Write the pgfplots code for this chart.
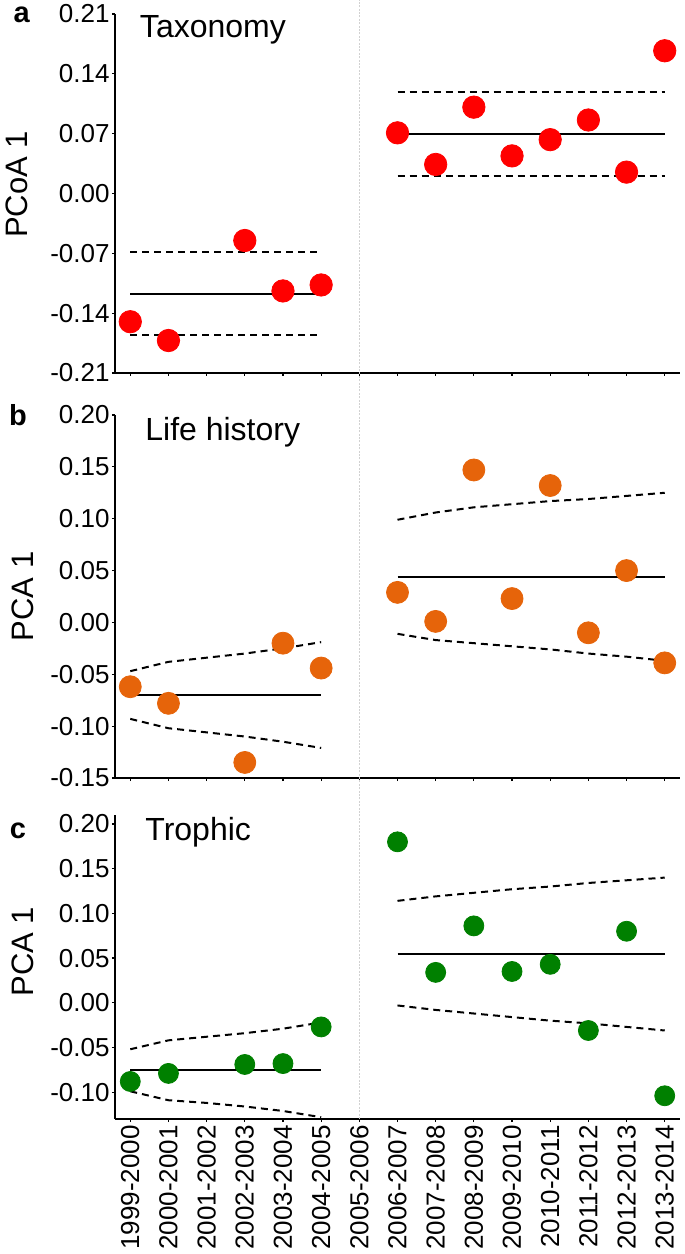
\documentclass[border=0pt]{standalone}
\usepackage{fontspec}
\setmainfont{Liberation Sans}
\usepackage{pgfplots}
\pgfplotsset{compat=1.18}

\definecolor{cred}{RGB}{255,0,0}
\definecolor{corange}{RGB}{230,100,10}
\definecolor{cgreen}{RGB}{0,128,0}

\pgfplotsset{
  panel/.style={
    scale only axis, width=282.5pt, anchor=north west,
    xmin=-0.4, xmax=14.4,
    axis x line*=bottom, axis y line*=left,
    axis line style={line width=0.8pt,-},
    xtick={0,...,14},
    tick style={line width=0.6pt, black},
    tick align=outside, major tick length=1.5pt,
    ticklabel style={font=\fontsize{13}{15}\selectfont},
    yticklabel style={inner sep=1pt},
    clip=false,
    ylabel style={anchor=center, font=\fontsize{15.5}{18}\selectfont},
  },
  mean/.style={black, line width=1pt},
  band/.style={black, line width=1pt, dash pattern=on 3.5pt off 2.5pt},
  pts/.style={only marks, mark=*, mark size=#1, mark options={draw=none}},
}

\begin{document}
\begin{tikzpicture}
\path[use as bounding box] (0,0) rectangle (342.5pt,-627pt);

% ---------------- panel a ----------------
\begin{axis}[panel, name=pa, at={(57.5pt,-7pt)}, height=179.5pt,
  ymin=-0.21, ymax=0.21,
  ytick={-0.21,-0.14,-0.07,0,0.07,0.14,0.21},
  yticklabels={-0.21,-0.14,-0.07,0.00,0.07,0.14,0.21},
  xticklabels={},
  ylabel={PCoA 1},
  ylabel style={at={(axis description cs:0,0.525)}, yshift=49pt}]
\addplot[pts=5.6pt, cred, mark options={fill=cred}] table {
x y
0 -0.150
1 -0.172
3 -0.055
4 -0.114
5 -0.107
7 0.071
8 0.034
9 0.101
10 0.044
11 0.063
12 0.086
13 0.025
14 0.167
};
\addplot[mean] coordinates {(0,-0.118) (5,-0.118)};
\addplot[band] coordinates {(0,-0.069) (5,-0.069)};
\addplot[band] coordinates {(0,-0.166) (5,-0.166)};
\addplot[mean] coordinates {(7,0.070) (14,0.070)};
\addplot[band] coordinates {(7,0.119) (14,0.119)};
\addplot[band] coordinates {(7,0.021) (14,0.021)};
\node[anchor=base west, inner sep=0pt, font=\fontsize{16}{18}\selectfont]
  at (rel axis cs:0,1) [xshift=12.3pt, yshift=-11.5pt] {Taxonomy};
\node[anchor=base, inner sep=0pt, font=\fontsize{14.5}{16}\selectfont\bfseries]
  at (rel axis cs:0,1) [xshift=-46.7pt, yshift=-4.4pt] {a};
\end{axis}

% ---------------- panel b ----------------
\begin{axis}[panel, name=pb, at={(57.5pt,-207.5pt)}, height=181.5pt,
  ymin=-0.15, ymax=0.20,
  ytick={-0.15,-0.10,-0.05,0,0.05,0.10,0.15,0.20},
  yticklabels={-0.15,-0.10,-0.05,0.00,0.05,0.10,0.15,0.20},
  xticklabels={},
  ylabel={PCA 1},
  ylabel style={at={(axis description cs:0,0.5)}, yshift=46pt}]
\addplot[pts=5.5pt, corange, mark options={fill=corange}] table {
x y
0 -0.062
1 -0.078
3 -0.135
4 -0.020
5 -0.044
7 0.029
8 0.001
9 0.147
10 0.023
11 0.132
12 -0.010
13 0.050
14 -0.039
};
\addplot[mean] coordinates {(0,-0.070) (5,-0.070)};
\addplot[band] coordinates {(0,-0.047) (1,-0.038) (2,-0.034) (3,-0.030) (4,-0.025) (5,-0.019)};
\addplot[band] coordinates {(0,-0.093) (1,-0.102) (2,-0.106) (3,-0.110) (4,-0.115) (5,-0.121)};
\addplot[mean] coordinates {(7,0.044) (14,0.044)};
\addplot[band] coordinates {(7,0.099) (8,0.106) (9,0.111) (10,0.114) (11,0.117) (12,0.119) (13,0.122) (14,0.125)};
\addplot[band] coordinates {(7,-0.011) (8,-0.017) (9,-0.020) (10,-0.023) (11,-0.026) (12,-0.030) (13,-0.033) (14,-0.037)};
\node[anchor=base west, inner sep=0pt, font=\fontsize{16}{18}\selectfont]
  at (rel axis cs:0,1) [xshift=15pt, yshift=-12.5pt] {Life history};
\node[anchor=base, inner sep=0pt, font=\fontsize{14.5}{16}\selectfont\bfseries]
  at (rel axis cs:0,1) [xshift=-48.5pt, yshift=-5pt] {b};
\end{axis}

% ---------------- panel c ----------------
\begin{axis}[panel, name=pc, at={(57.5pt,-407.5pt)}, height=152pt,
  ymin=-0.13, ymax=0.21,
  ytick={-0.10,-0.05,0,0.05,0.10,0.15,0.20},
  yticklabels={-0.10,-0.05,0.00,0.05,0.10,0.15,0.20},
  xticklabels={1999-2000,2000-2001,2001-2002,2002-2003,2003-2004,2004-2005,2005-2006,2006-2007,2007-2008,2008-2009,2009-2010,2010-2011,2011-2012,2012-2013,2013-2014},
  xticklabel style={rotate=90, anchor=east, inner sep=1.5pt},
  ylabel={PCA 1},
  ylabel style={at={(axis description cs:0,0.55)}, yshift=46pt}]
\addplot[pts=5pt, cgreen, mark options={fill=cgreen}] table {
x y
0 -0.088
1 -0.079
3 -0.069
4 -0.068
5 -0.027
7 0.180
8 0.034
9 0.086
10 0.035
11 0.043
12 -0.031
13 0.080
14 -0.104
};
\addplot[mean] coordinates {(0,-0.075) (5,-0.075)};
\addplot[band] coordinates {(0,-0.052) (1,-0.042) (2,-0.038) (3,-0.034) (4,-0.029) (5,-0.022)};
\addplot[band] coordinates {(0,-0.099) (1,-0.109) (2,-0.112) (3,-0.116) (4,-0.121) (5,-0.128)};
\addplot[mean] coordinates {(7,0.055) (14,0.055)};
\addplot[band] coordinates {(7,0.114) (8,0.119) (9,0.123) (10,0.127) (11,0.130) (12,0.134) (13,0.137) (14,0.140)};
\addplot[band] coordinates {(7,-0.003) (8,-0.008) (9,-0.012) (10,-0.016) (11,-0.020) (12,-0.023) (13,-0.027) (14,-0.031)};
\node[anchor=base west, inner sep=0pt, font=\fontsize{16}{18}\selectfont]
  at (rel axis cs:0,1) [xshift=15pt, yshift=-12.5pt] {Trophic};
\node[anchor=base, inner sep=0pt, font=\fontsize{14.5}{16}\selectfont\bfseries]
  at (rel axis cs:0,1) [xshift=-48.5pt, yshift=-11.5pt] {c};
\coordinate (vbot) at (axis cs:6,-0.13);
\end{axis}

\draw[black!18, line width=0.5pt, dash pattern=on 1pt off 0.7pt] (vbot) -- (vbot |- 0,0);
\end{tikzpicture}
\end{document}
